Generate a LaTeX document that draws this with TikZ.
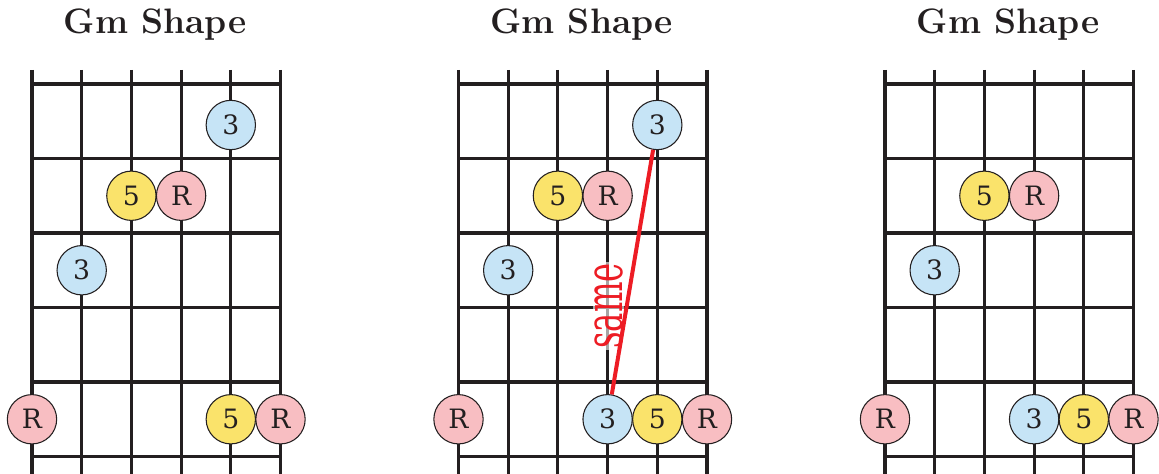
\documentclass[tikz,border=0pt]{standalone}
\usepackage{fontspec}
\usepackage{tikz}
\usetikzlibrary{positioning}
\newfontfamily\notefont{DejaVu Serif}
\definecolor{cInk}{HTML}{231F20}
\definecolor{cThird}{HTML}{C6E4F6}
\definecolor{cFifth}{HTML}{FAE36B}
\definecolor{cRoot}{HTML}{F8BEC2}
\definecolor{cRed}{HTML}{ED1C24}
\tikzset{
  fretline/.style={
    draw=cInk, line width=2.3pt,
  },
  dotbase/.style={
    circle, draw=cInk, line width=0.8pt,
    minimum size=37pt, inner sep=0pt,
    text=cInk, font=\notefont\fontsize{20}{20}\selectfont,
  },
  thirdDot/.style={dotbase, fill=cThird},
  fifthDot/.style={dotbase, fill=cFifth},
  rootDot/.style={dotbase, fill=cRoot},
  shapetitle/.style={
    font=\fontsize{26.5}{26.5}\selectfont\bfseries, text=cInk,
  },
  sameline/.style={
    draw=cRed, line width=3pt,
  },
  samelabel/.style={
    rotate=90, text=cRed, fill=white, fill opacity=0.6, text opacity=1,
    inner sep=1pt, font=\notefont\fontsize{39}{39}\selectfont,
  },
}

\begin{document}
\begin{tikzpicture}[x=0.75pt, y=-0.75pt]

\useasboundingbox (0,0) rectangle (1159,474);

% ═══════════════════════════════════════════════════════════════
%  SHAPE 1 – left
% ═══════════════════════════════════════════════════════════════
\begin{scope}
  \foreach \s in {0,...,5}
    \draw[fretline] (32+49.7*\s,70) -- (32+49.7*\s,474);
  \foreach \f in {0,...,5}
    \draw[fretline] (32,84+74.5*\f) -- (282,84+74.5*\f);

  \node[shapetitle] (leftTitle) at (155,25) {Gm Shape};

  \node[thirdDot] (leftThreeHi)  at (230.8,125)    {3};
  \node[fifthDot] (leftFiveHi)   at (131.4,195.75) {5};
  \node[rootDot]  (leftRootHi)   at (181.1,195.75) {R};
  \node[thirdDot] (leftThreeMid) at (81.7,270.25)  {3};
  \node[rootDot]  (leftRootLo)   at (32,419.25)    {R};
  \node[fifthDot] (leftFiveLo)   at (230.8,419.25) {5};
  \node[rootDot]  (leftRootEnd)  at (280.5,419.25) {R};
\end{scope}

% ═══════════════════════════════════════════════════════════════
%  SHAPE 2 – middle
% ═══════════════════════════════════════════════════════════════
\begin{scope}[shift={(426.5,0)}]
  \foreach \s in {0,...,5}
    \draw[fretline] (32+49.7*\s,70) -- (32+49.7*\s,474);
  \foreach \f in {0,...,5}
    \draw[fretline] (32,84+74.5*\f) -- (282,84+74.5*\f);

  \node[shapetitle] (midTitle) at (155,25) {Gm Shape};

  \node[samelabel] (sameTag) at (182,306) {\scalebox{0.62}[1]{same}};

  \node[thirdDot] (midThreeHi)  at (230.8,125)    {3};
  \node[fifthDot] (midFiveHi)   at (131.4,195.75) {5};
  \node[rootDot]  (midRootHi)   at (181.1,195.75) {R};
  \node[thirdDot] (midThreeMid) at (81.7,270.25)  {3};
  \node[rootDot]  (midRootLo)   at (32,419.25)    {R};
  \node[thirdDot] (midThreeLo)  at (181.1,419.25) {3};
  \node[fifthDot] (midFiveLo)   at (230.8,419.25) {5};
  \node[rootDot]  (midRootEnd)  at (280.5,419.25) {R};

  % ── same note, one octave apart ──
  \draw[sameline] (midThreeHi) -- (midThreeLo);
\end{scope}

% ═══════════════════════════════════════════════════════════════
%  SHAPE 3 – right
% ═══════════════════════════════════════════════════════════════
\begin{scope}[shift={(853,0)}]
  \foreach \s in {0,...,5}
    \draw[fretline] (32+49.7*\s,70) -- (32+49.7*\s,474);
  \foreach \f in {0,...,5}
    \draw[fretline] (32,84+74.5*\f) -- (282,84+74.5*\f);

  \node[shapetitle] (rightTitle) at (155,25) {Gm Shape};

  \node[fifthDot] (rightFiveHi)   at (131.4,195.75) {5};
  \node[rootDot]  (rightRootHi)   at (181.1,195.75) {R};
  \node[thirdDot] (rightThreeMid) at (81.7,270.25)  {3};
  \node[rootDot]  (rightRootLo)   at (32,419.25)    {R};
  \node[thirdDot] (rightThreeLo)  at (181.1,419.25) {3};
  \node[fifthDot] (rightFiveLo)   at (230.8,419.25) {5};
  \node[rootDot]  (rightRootEnd)  at (280.5,419.25) {R};
\end{scope}

\end{tikzpicture}
\end{document}
